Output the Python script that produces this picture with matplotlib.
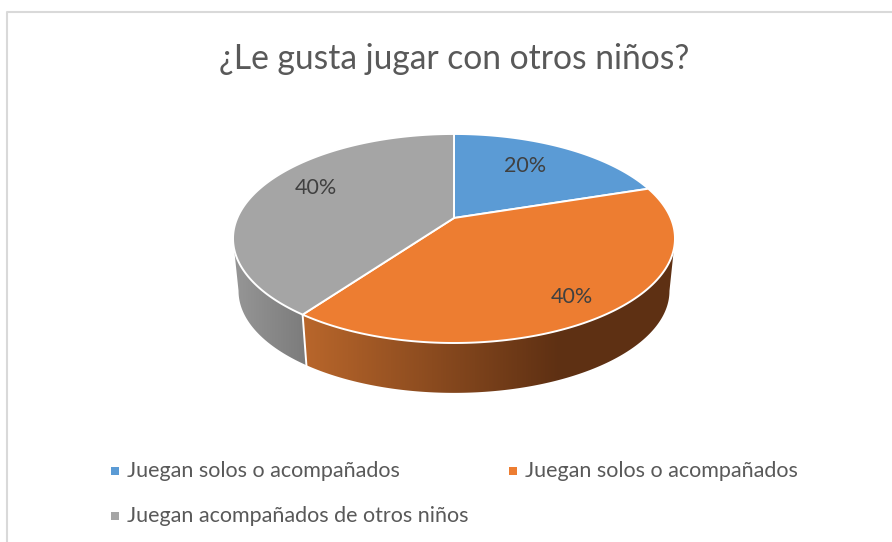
import numpy as np
import matplotlib
matplotlib.use("Agg")
import matplotlib.pyplot as plt
from matplotlib.colors import LinearSegmentedColormap
from matplotlib.patches import Polygon

title = "¿Le gusta jugar con otros niños?"
categories = ["Juegan solos o acompañados", "Juegan solos o acompañados", "Juegan acompañados de otros niños"]
values = [20, 40, 40]
labels = ["20%", "40%", "40%"]
colors = ["#5b9bd5", "#ed7d31", "#a5a5a5"]

plt.rcParams["font.family"] = ["Lato", "DejaVu Sans"]

fig = plt.figure(figsize=(8.92, 5.42), dpi=100)
ax = fig.add_axes([0, 0, 1, 1])

# pie geometry in pixels, top face is a circle seen in perspective
cx, cy = 454, 218
rx, ry, k = 216.7, 100.5, 0.196
drop, shrink = 53, 0.975


def project(theta, bottom=False):
    # theta clockwise from 12 o'clock, in degrees
    t = np.radians(theta)
    d = 1 + k * np.cos(t)
    x = rx * np.sin(t) / d
    y = ry * np.cos(t) / d
    if bottom:
        return cx + shrink * x, cy + drop - shrink * y
    return cx + x, cy - y


edges = np.cumsum([0] + values) / sum(values) * 360

# angle where the rim is widest, the wall starts and stops there
rim = np.degrees(np.arccos(-k))

# side wall, a horizontal gradient clipped to the outline of each slice
side = [("#b8662b", "#5e3013", 305, 560), ("#949494", "#7c7c7c", 240, 305)]
for i, (c1, c2, x1, x2) in zip([1, 2], side):
    thetas = np.arange(max(edges[i], rim), min(edges[i + 1], 360 - rim) + 0.25, 0.25)
    tx, ty = project(thetas)
    bx, by = project(thetas, True)
    outline = list(zip(tx, ty)) + list(zip(bx[::-1], by[::-1]))
    cmap = LinearSegmentedColormap.from_list("wall", [c1, c2])
    grad = np.clip((np.arange(892) + 0.5 - x1) / (x2 - x1), 0, 1)[None, :]
    im = ax.imshow(grad, cmap=cmap, vmin=0, vmax=1, extent=(0, 892, 542, 0), aspect="auto", zorder=1)
    clip = Polygon(outline, closed=True, transform=ax.transData)
    im.set_clip_path(clip)

ax.set_xlim(0, 892)
ax.set_ylim(542, 0)
ax.axis("off")

# white seam where orange meets gray on the wall
x1, y1 = project(edges[2])
x2, y2 = project(edges[2], True)
ax.plot([x1, x2], [y1, y2], color="white", lw=1.4, zorder=2)

# top face
for i, col in enumerate(colors):
    thetas = np.linspace(edges[i], edges[i + 1], 150)
    px, py = project(thetas)
    pts = [(cx, cy)] + list(zip(px, py))
    ax.add_patch(Polygon(pts, closed=True, fc=col, ec="white", lw=1.4, joinstyle="round", zorder=3))

# data labels
label_pos = [(525, 166), (572, 297), (316, 188)]
for lab, (x, y) in zip(labels, label_pos):
    ax.text(x, y, lab, fontsize=15.5, color="#404040", ha="center", va="center", zorder=4)

ax.text(454, 59, title, fontsize=24.2, color="#595959", ha="center", va="center")

# legend
legend_pos = [(115, 471), (513, 471), (115, 516)]
for cat, col, (x, y) in zip(categories, colors, legend_pos):
    ax.scatter([x], [y], marker="s", s=32, color=col, linewidths=0)
    ax.text(x + 12, y, cat, fontsize=15.5, color="#595959", ha="left", va="center")

# chart frame, cut by the screenshot on the right and at the bottom
ax.plot([7, 7, 892], [542, 12, 12], color="#d9d9d9", lw=1.5)

fig.savefig("out.png", dpi=100)
